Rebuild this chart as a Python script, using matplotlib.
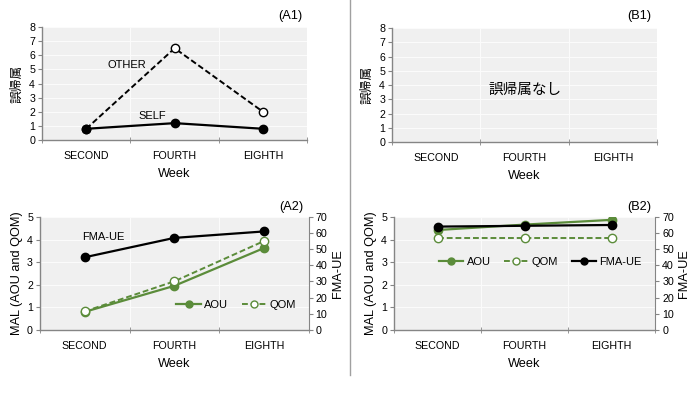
import matplotlib
matplotlib.use("Agg")
import matplotlib.pyplot as plt
from matplotlib.lines import Line2D

plt.rcParams['font.family'] = ['Liberation Sans', 'Noto Sans CJK JP', 'DejaVu Sans']

weeks = ["SECOND", "FOURTH", "EIGHTH"]
a1_other = [0.8, 6.5, 2.0]
a1_self = [0.8, 1.2, 0.8]
a2_aou = [0.8, 1.95, 3.62]
a2_qom = [0.82, 2.15, 3.93]
a2_fma = [45, 57, 61]
b2_aou = [4.42, 4.66, 4.87]
b2_qom = [4.08, 4.08, 4.08]
b2_fma = [64, 64.5, 65]

GREEN = '#5b8c3a'
BG = '#f0f0f0'
GRID = '#fbfbfb'
SPINE = '#858585'
TICKFS = 7.7
LABFS = 9.2

fig = plt.figure(figsize=(7, 3.98), dpi=100)

def style(ax, ymax, ystep):
    ax.set_facecolor(BG)
    x = list(range(len(weeks)))
    ax.set_xlim(-0.5, len(weeks) - 0.5)
    ax.set_ylim(0, ymax)
    ax.set_yticks(range(0, ymax + 1, ystep))
    ax.set_xticks(x)
    ax.set_xticklabels(weeks, fontsize=TICKFS)
    ax.set_xticks([i - 0.5 for i in range(len(weeks) + 1)], minor=True)
    ax.tick_params(axis='x', which='major', length=0, pad=8)
    ax.tick_params(axis='x', which='minor', length=4, direction='inout', color=SPINE)
    ax.tick_params(axis='y', labelsize=TICKFS, length=3, color=SPINE, pad=2)
    for s in ['top', 'right']:
        ax.spines[s].set_visible(False)
    for s in ['left', 'bottom']:
        ax.spines[s].set_color(SPINE)
        ax.spines[s].set_linewidth(1.0)
    ax.grid(True, which='major', axis='y', color=GRID, lw=0.8)
    ax.grid(True, which='minor', axis='x', color=GRID, lw=0.8)
    ax.set_axisbelow(True)
    ax.set_xlabel("Week", fontsize=LABFS, labelpad=5)

# A1
ax1 = fig.add_axes([0.060, 0.648, 0.379, 0.284])
style(ax1, 8, 1)
x = list(range(len(weeks)))
ax1.plot(x, a1_other, color='black', ls='--', lw=1.4, marker='o', ms=6,
         mfc='white', mec='black', mew=1.0, dashes=(3, 1.5))
ax1.plot(x, a1_self, color='black', lw=1.6, marker='o', ms=6, mfc='black', mec='black')
ax1.text(0.46, 5.3, "OTHER", fontsize=TICKFS + 0.3, ha='center', va='center')
ax1.text(0.75, 1.7, "SELF", fontsize=TICKFS + 0.3, ha='center', va='center')
ax1.set_ylabel("誤帰属", fontsize=LABFS, family=['Noto Sans CJK JP'], labelpad=4)
fig.text(0.415, 0.96, "(A1)", fontsize=LABFS, ha='center', va='center')

# B1
ax2 = fig.add_axes([0.560, 0.643, 0.379, 0.286])
style(ax2, 8, 1)
ax2.text(1.0, 3.7, "誤帰属なし", fontsize=10.5, ha='center', va='center',
         family=['Noto Sans CJK JP'])
ax2.set_ylabel("誤帰属", fontsize=LABFS, family=['Noto Sans CJK JP'], labelpad=4)
fig.text(0.914, 0.96, "(B1)", fontsize=LABFS, ha='center', va='center')

# A2
ax3 = fig.add_axes([0.057, 0.171, 0.384, 0.284])
style(ax3, 5, 1)
ax3.set_ylabel("MAL (AOU and QOM)", fontsize=LABFS, labelpad=3)
ax3r = ax3.twinx()
ax3r.set_ylim(0, 70)
ax3r.set_yticks(range(0, 71, 10))
ax3r.tick_params(axis='y', labelsize=TICKFS, length=3, color=SPINE, pad=2)
for s in ['top', 'left', 'bottom']:
    ax3r.spines[s].set_visible(False)
ax3r.spines['right'].set_color(SPINE)
ax3r.set_ylabel("FMA-UE", fontsize=LABFS, labelpad=3)
ax3r.plot(x, a2_fma, color='black', lw=1.6, marker='o', ms=6, zorder=3)
ax3.plot(x, a2_aou, color=GREEN, lw=1.6, marker='o', ms=6, mfc=GREEN, mec=GREEN, zorder=3)
ax3.plot(x, a2_qom, color=GREEN, lw=1.4, ls='--', marker='o', ms=6, mfc='white',
         mec=GREEN, mew=1.0, dashes=(3, 1.5), zorder=3)
ax3.text(0.21, 4.1, "FMA-UE", fontsize=TICKFS + 0.3, ha='center', va='center')
h_aou = Line2D([], [], color=GREEN, lw=1.6, marker='o', ms=5, mfc=GREEN, mec=GREEN)
h_qom = Line2D([], [], color=GREEN, lw=1.4, ls='--', marker='o', ms=5, mfc='white',
               mec=GREEN, dashes=(3, 1.5))
h_fma = Line2D([], [], color='black', lw=1.6, marker='o', ms=5)
ax3r.legend([h_aou, h_qom], ["AOU", "QOM"], loc='center', bbox_to_anchor=(0.73, 0.22),
            ncol=2, frameon=False, fontsize=TICKFS + 0.3, handlelength=2.2,
            handletextpad=0.3, columnspacing=1.2)
fig.text(0.416, 0.48, "(A2)", fontsize=LABFS, ha='center', va='center')

# B2
ax4 = fig.add_axes([0.563, 0.171, 0.373, 0.284])
style(ax4, 5, 1)
ax4.set_ylabel("MAL (AOU and QOM)", fontsize=LABFS, labelpad=3)
ax4r = ax4.twinx()
ax4r.set_ylim(0, 70)
ax4r.set_yticks(range(0, 71, 10))
ax4r.tick_params(axis='y', labelsize=TICKFS, length=3, color=SPINE, pad=2)
for s in ['top', 'left', 'bottom']:
    ax4r.spines[s].set_visible(False)
ax4r.spines['right'].set_color(SPINE)
ax4r.set_ylabel("FMA-UE", fontsize=LABFS, labelpad=3)
ax4.plot(x, b2_aou, color=GREEN, lw=1.6, marker='o', ms=6, mfc=GREEN, mec=GREEN, zorder=3)
ax4.plot(x, b2_qom, color=GREEN, lw=1.4, ls='--', marker='o', ms=6, mfc='white',
         mec=GREEN, mew=1.0, dashes=(3, 1.5), zorder=3)
ax4r.plot(x, b2_fma, color='black', lw=1.6, marker='o', ms=6, zorder=3)
ax4r.legend([h_aou, h_qom, h_fma], ["AOU", "QOM", "FMA-UE"], loc='center',
            bbox_to_anchor=(0.56, 0.6), ncol=3, frameon=False, fontsize=TICKFS + 0.3,
            handlelength=2.2, handletextpad=0.3, columnspacing=1.2)
fig.text(0.914, 0.48, "(B2)", fontsize=LABFS, ha='center', va='center')

# divider
fig.add_artist(Line2D([0.5, 0.5], [1.0, 1 - 375 / 398], color='#a0a0a0', lw=1.0))

fig.savefig("out.png", dpi=100, facecolor='white')
